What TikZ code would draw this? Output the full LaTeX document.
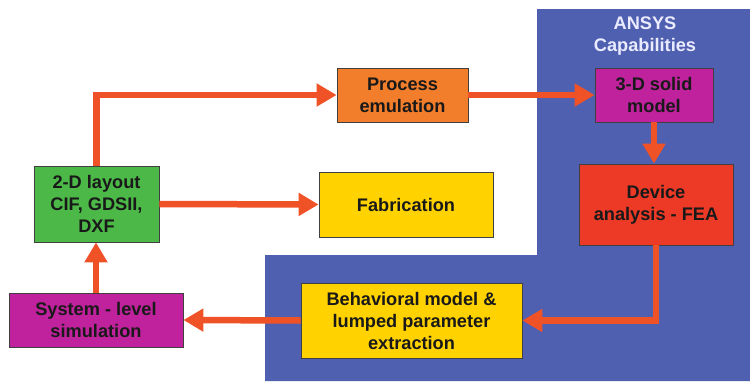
\documentclass[tikz,border=0pt]{standalone}
\usepackage{fontspec}
\setmainfont{Liberation Sans}
\usetikzlibrary{arrows.meta}
\definecolor{ansysblue}{HTML}{5060B0}
\definecolor{flowred}{HTML}{F05228}
\definecolor{procorange}{HTML}{F27E2C}
\definecolor{solidmagenta}{HTML}{C0219C}
\definecolor{fabyellow}{HTML}{FFD200}
\definecolor{feared}{HTML}{EC3A26}
\definecolor{layoutgreen}{HTML}{4CB848}
\tikzstyle{every node}=[font=\fontsize{18.2}{22}\selectfont\bfseries, align=center, text=black!90]
\tikzstyle{block}=[draw=black!75, line width=0.8pt, inner sep=0pt]
\tikzstyle{flow}=[draw=flowred, line width=6.5pt, -{Triangle[length=20pt, width=22pt]}]

\begin{document}
\begin{tikzpicture}[x=1pt, y=-1pt]
    \useasboundingbox (0, 0) rectangle (750, 381);
% ANSYS region
    \fill[ansysblue] (537, 9) -- (750, 9) -- (750, 381) -- (265, 381)
        -- (265, 255) -- (537, 255) -- cycle;
    \node[text=white!92!blue] (ansys) at (645, 36) {ANSYS\\Capabilities};
% Blocks
    \node[block, fill=layoutgreen, minimum width=125pt, minimum height=76pt] (layout) at (96.5, 204) {2-D layout\\CIF, GDSII,\\DXF};
    \node[block, fill=solidmagenta, minimum width=174pt, minimum height=54pt] (system) at (96, 320) {System - level\\simulation};
    \node[block, fill=procorange, minimum width=131pt, minimum height=54pt] (process) at (402.5, 95) {Process\\emulation};
    \node[block, fill=solidmagenta, minimum width=118pt, minimum height=54pt] (solid) at (654, 95) {3-D solid\\model};
    \node[block, fill=fabyellow, minimum width=174pt, minimum height=65pt] (fab) at (406, 204.5) {Fabrication};
    \node[block, fill=feared, minimum width=154pt, minimum height=81pt] (fea) at (656, 204.5) {Device\\analysis - FEA};
    \node[block, fill=fabyellow, minimum width=221pt, minimum height=75pt] (behav) at (411.5, 320.5) {Behavioral model \&\\lumped parameter\\extraction};
% Flow arrows
    \draw[flow] (layout.north) |- (process.west);
    \draw[flow] (process.east) -- (solid.west);
    \draw[flow] (solid.south) -- (solid.south |- fea.north);
    \draw[flow] (layout.east) -- (fab.west);
    \draw[flow] (fea.south) |- (behav.east);
    \draw[flow] (behav.west) -- (system.east);
    \draw[flow] (system.north) -- (system.north |- layout.south);
\end{tikzpicture}
\end{document}
